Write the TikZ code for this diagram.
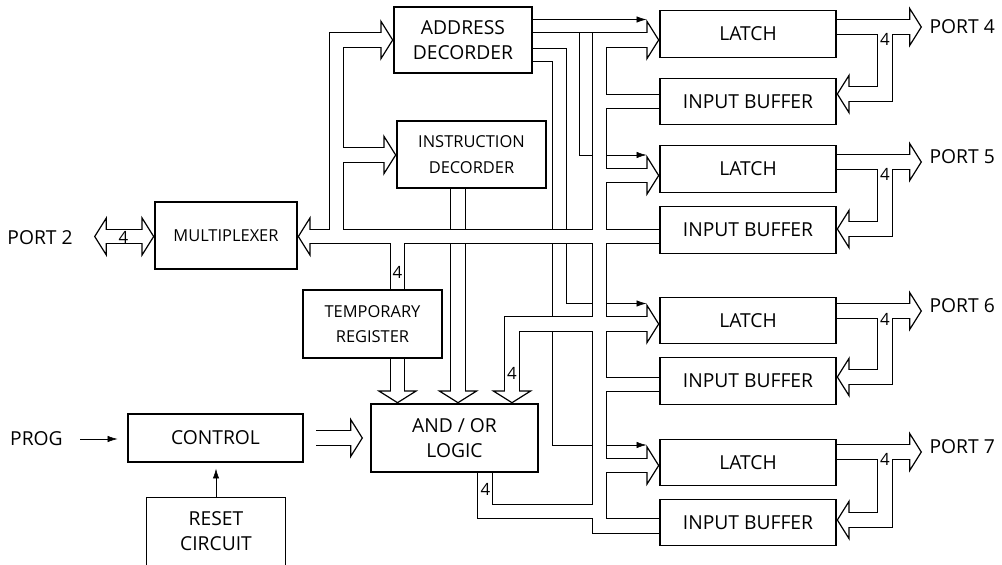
\documentclass[tikz,border=0pt]{standalone}
\usepackage{fontspec}
\setmainfont{Open Sans}
\usetikzlibrary{arrows.meta}
\pgfdeclarelayer{wires}
\pgfsetlayers{wires,main}

\newcommand{\blkfont}{\fontsize{13.7}{18.2}\selectfont}
\newcommand{\minifont}{\fontsize{11.7}{18.2}\selectfont}
\newcommand{\busfont}{\fontsize{12}{14}\selectfont}

\tikzset{Bus/.tip={Triangle[length=9.2pt, width=29.2pt, line width=0.85pt, fill=white]}}

% Data bus network (drawn twice: wide black, then narrow white)
\newcommand{\busnet}{%
  % trunk, input buffer 7 up to latch 4
  \draw[bus, hd] (ib7.west |- b7) -- (trunk |- b7) -- (trunk |- t4) -- (latch4.west |- t4);
  \draw[bus] (trunk |- b4) -- (ib4.west |- b4);
  \draw[bus, hd] (trunk |- t5) -- (latch5.west |- t5);
  \draw[bus, hd] (ib5.west |- b5) -- (mux.east |- b5);
  \draw[bus, hd] (trunk |- t6) -- (latch6.west |- t6);
  \draw[bus] (trunk |- b6) -- (ib6.west |- b6);
  \draw[bus, hd] (trunk |- t7) -- (latch7.west |- t7);
  % multiplexer side
  \draw[bus, hd] (riser |- b5) -- (riser |- t4) -- (addr.west |- t4);
  \draw[bus, hd] (riser |- yi) -- (instr.west |- yi);
  \draw[bus] (tap |- b5) -- (temp.north -| tap);
  \draw[bus, hd] (temp.south -| tap) -- (logic.north -| tap);
  \draw[bus, hd] (trunk |- t6) -| (logic.north -| fb);
  \draw[bus] (logic.south -| res) |- (trunk |- yr);
  \draw[bus, hd] (cA) -- (cB);
  \draw[bus, hd2] (p2) -- (mux.west |- b5);
  % ports
  \draw[bus, hd] (latch4.east |- o4) -- (ptip |- o4);
  \draw[bus, hd] (pb |- o4) |- (ib4.east |- i4);
  \draw[bus, hd] (latch5.east |- o5) -- (ptip |- o5);
  \draw[bus, hd] (pb |- o5) |- (ib5.east |- i5);
  \draw[bus, hd] (latch6.east |- o6) -- (ptip |- o6);
  \draw[bus, hd] (pb |- o6) |- (ib6.east |- i6);
  \draw[bus, hd] (latch7.east |- o7) -- (ptip |- o7);
  \draw[bus, hd] (pb |- o7) |- (ib7.east |- i7);
}

\begin{document}
\begin{tikzpicture}[x=0.025cm, y=-0.025cm, line width=0.85pt,
  blk/.style={draw, align=center, inner sep=0pt, font=\blkfont},
  unit/.style={blk, minimum width=4.4cm, minimum height=1.1625cm},
  txt/.style={inner sep=0pt, font=\blkfont},
  num/.style={inner sep=0pt, font=\busfont},
  sel/.style={-{Latex[length=7pt, width=4.5pt]}}]
  \useasboundingbox (0,0) rectangle (1002,565);

  % Blocks
  \node[blk, minimum width=3.45cm, minimum height=1.65cm] (addr) at (463,40) {ADDRESS\\DECORDER};
  \node[blk, font=\minifont, minimum width=3.725cm, minimum height=1.675cm] (instr) at (471.5,154.5) {INSTRUCTION\\DECORDER};
  \node[blk, font=\minifont, minimum width=3.55cm, minimum height=1.675cm] (mux) at (226,235.5) {MULTIPLEXER};
  \node[blk, font=\minifont, minimum width=3.475cm, minimum height=1.7cm] (temp) at (372.5,324) {TEMPORARY\\REGISTER};
  \node[blk, minimum width=4.175cm, minimum height=1.7cm] (logic) at (454.5,438) {AND / OR\\LOGIC};
  \node[blk, minimum width=4.375cm, minimum height=1.2cm] (ctrl) at (215.5,438) {CONTROL};
  \node[txt, align=center, minimum width=3.45cm, minimum height=1.65cm] (reset) at (216,531) {RESET\\CIRCUIT};
  \draw (reset.south west) |- (reset.north east) -- (reset.south east);

  % Latches and input buffers
  \node[unit] (latch4) at (748,34) {LATCH};
  \node[unit] (ib4) at (748,101.5) {INPUT BUFFER};
  \node[unit] (latch5) at (748,169) {LATCH};
  \node[unit] (ib5) at (748,230) {INPUT BUFFER};
  \node[unit] (latch6) at (748,320.5) {LATCH};
  \node[unit] (ib6) at (748,381) {INPUT BUFFER};
  \node[unit] (latch7) at (748,462.5) {LATCH};
  \node[unit] (ib7) at (748,522.5) {INPUT BUFFER};

  % Outside names
  \node[txt] (port2) at (40,238) {PORT 2};
  \node[txt] (prog) at (36.5,439) {PROG};
  \node[txt, anchor=west] (port4) at (929,26.5) {PORT 4};
  \node[txt, anchor=west] (port5) at (929,157) {PORT 5};
  \node[txt, anchor=west] (port6) at (929,306) {PORT 6};
  \node[txt, anchor=west] (port7) at (929,447) {PORT 7};

  % Bus columns and levels
  \coordinate (trunk) at (599.5,0);
  \coordinate (riser) at (336.5,0);
  \coordinate (tap) at (397.5,0);
  \coordinate (dec) at (458,0);
  \coordinate (fb) at (512,0);
  \coordinate (res) at (485,0);
  \coordinate (pb) at (885,0);
  \coordinate (ptip) at (922,0);
  \coordinate (t4) at (0,40);
  \coordinate (b4) at (0,101.5);
  \coordinate (t5) at (0,175.5);
  \coordinate (b5) at (0,236.5);
  \coordinate (t6) at (0,324);
  \coordinate (b6) at (0,384.5);
  \coordinate (t7) at (0,465.5);
  \coordinate (b7) at (0,526);
  \coordinate (yi) at (0,155);
  \coordinate (yr) at (0,511.5);
  \coordinate (o4) at (0,27);
  \coordinate (i4) at (0,94);
  \coordinate (o5) at (0,162);
  \coordinate (i5) at (0,229);
  \coordinate (o6) at (0,311);
  \coordinate (i6) at (0,377);
  \coordinate (o7) at (0,452);
  \coordinate (i7) at (0,520);
  \coordinate (cA) at (316,438);
  \coordinate (cB) at (363,438);
  \coordinate (p2) at (94,236.5);
  % select lines
  \coordinate (s4) at (0,19.5);
  \coordinate (s5) at (0,155);
  \coordinate (s6) at (0,303.5);
  \coordinate (s7) at (0,445);
  \coordinate (k5) at (579,32.65);
  \coordinate (k6) at (566,48);
  \coordinate (k7) at (552,61);

  \begin{pgfonlayer}{wires}
    % Decoder select lines
    \draw[sel, shorten >=9.2pt] (addr.east |- s4) -- (latch4.west |- s4);
    \draw (addr.east |- k5) -- (trunk |- k5);
    \draw[sel, shorten >=9.2pt] (k5) |- (latch5.west |- s5);
    \draw[sel, shorten >=9.2pt] (addr.east |- k6) -- (k6) |- (latch6.west |- s6);
    \draw[sel, shorten >=9.2pt] (addr.east |- k7) -- (k7) |- (latch7.west |- s7);

    % Instruction bus (runs under the data bus)
    \draw[line width=11.3pt, -{Bus}] (instr.south -| dec) -- (logic.north -| dec);
    \draw[line width=9.6pt, white, shorten >=7pt] (instr.south -| dec) -- (logic.north -| dec);

    % Data bus
    \begin{scope}[bus/.style={line width=11.3pt}, hd/.style={-{Bus}}, hd2/.style={{Bus}-{Bus}}]
      \busnet
    \end{scope}
    \begin{scope}[bus/.style={line width=9.6pt, white}, hd/.style={shorten >=7pt},
        hd2/.style={shorten <=7pt, shorten >=7pt}]
      \busnet
    \end{scope}
  \end{pgfonlayer}

  % Control inputs
  \draw[sel, shorten <=12pt, shorten >=7pt] (prog.east) -- (prog.east -| ctrl.west);
  \draw[sel, shorten >=4.3pt] (reset.north) -- (reset.north |- ctrl.south);

  % Bus widths
  \node[num] (w2) at (123.5,237) {4};
  \node[num] (wt) at (397.5,272) {4};
  \node[num] (wf) at (512,373.5) {4};
  \node[num] (wr) at (485.5,489) {4};
  \node[num] (w4) at (885,39) {4};
  \node[num] (w5) at (885,174) {4};
  \node[num] (w6) at (885,319) {4};
  \node[num] (w7) at (885,459) {4};
\end{tikzpicture}
\end{document}
